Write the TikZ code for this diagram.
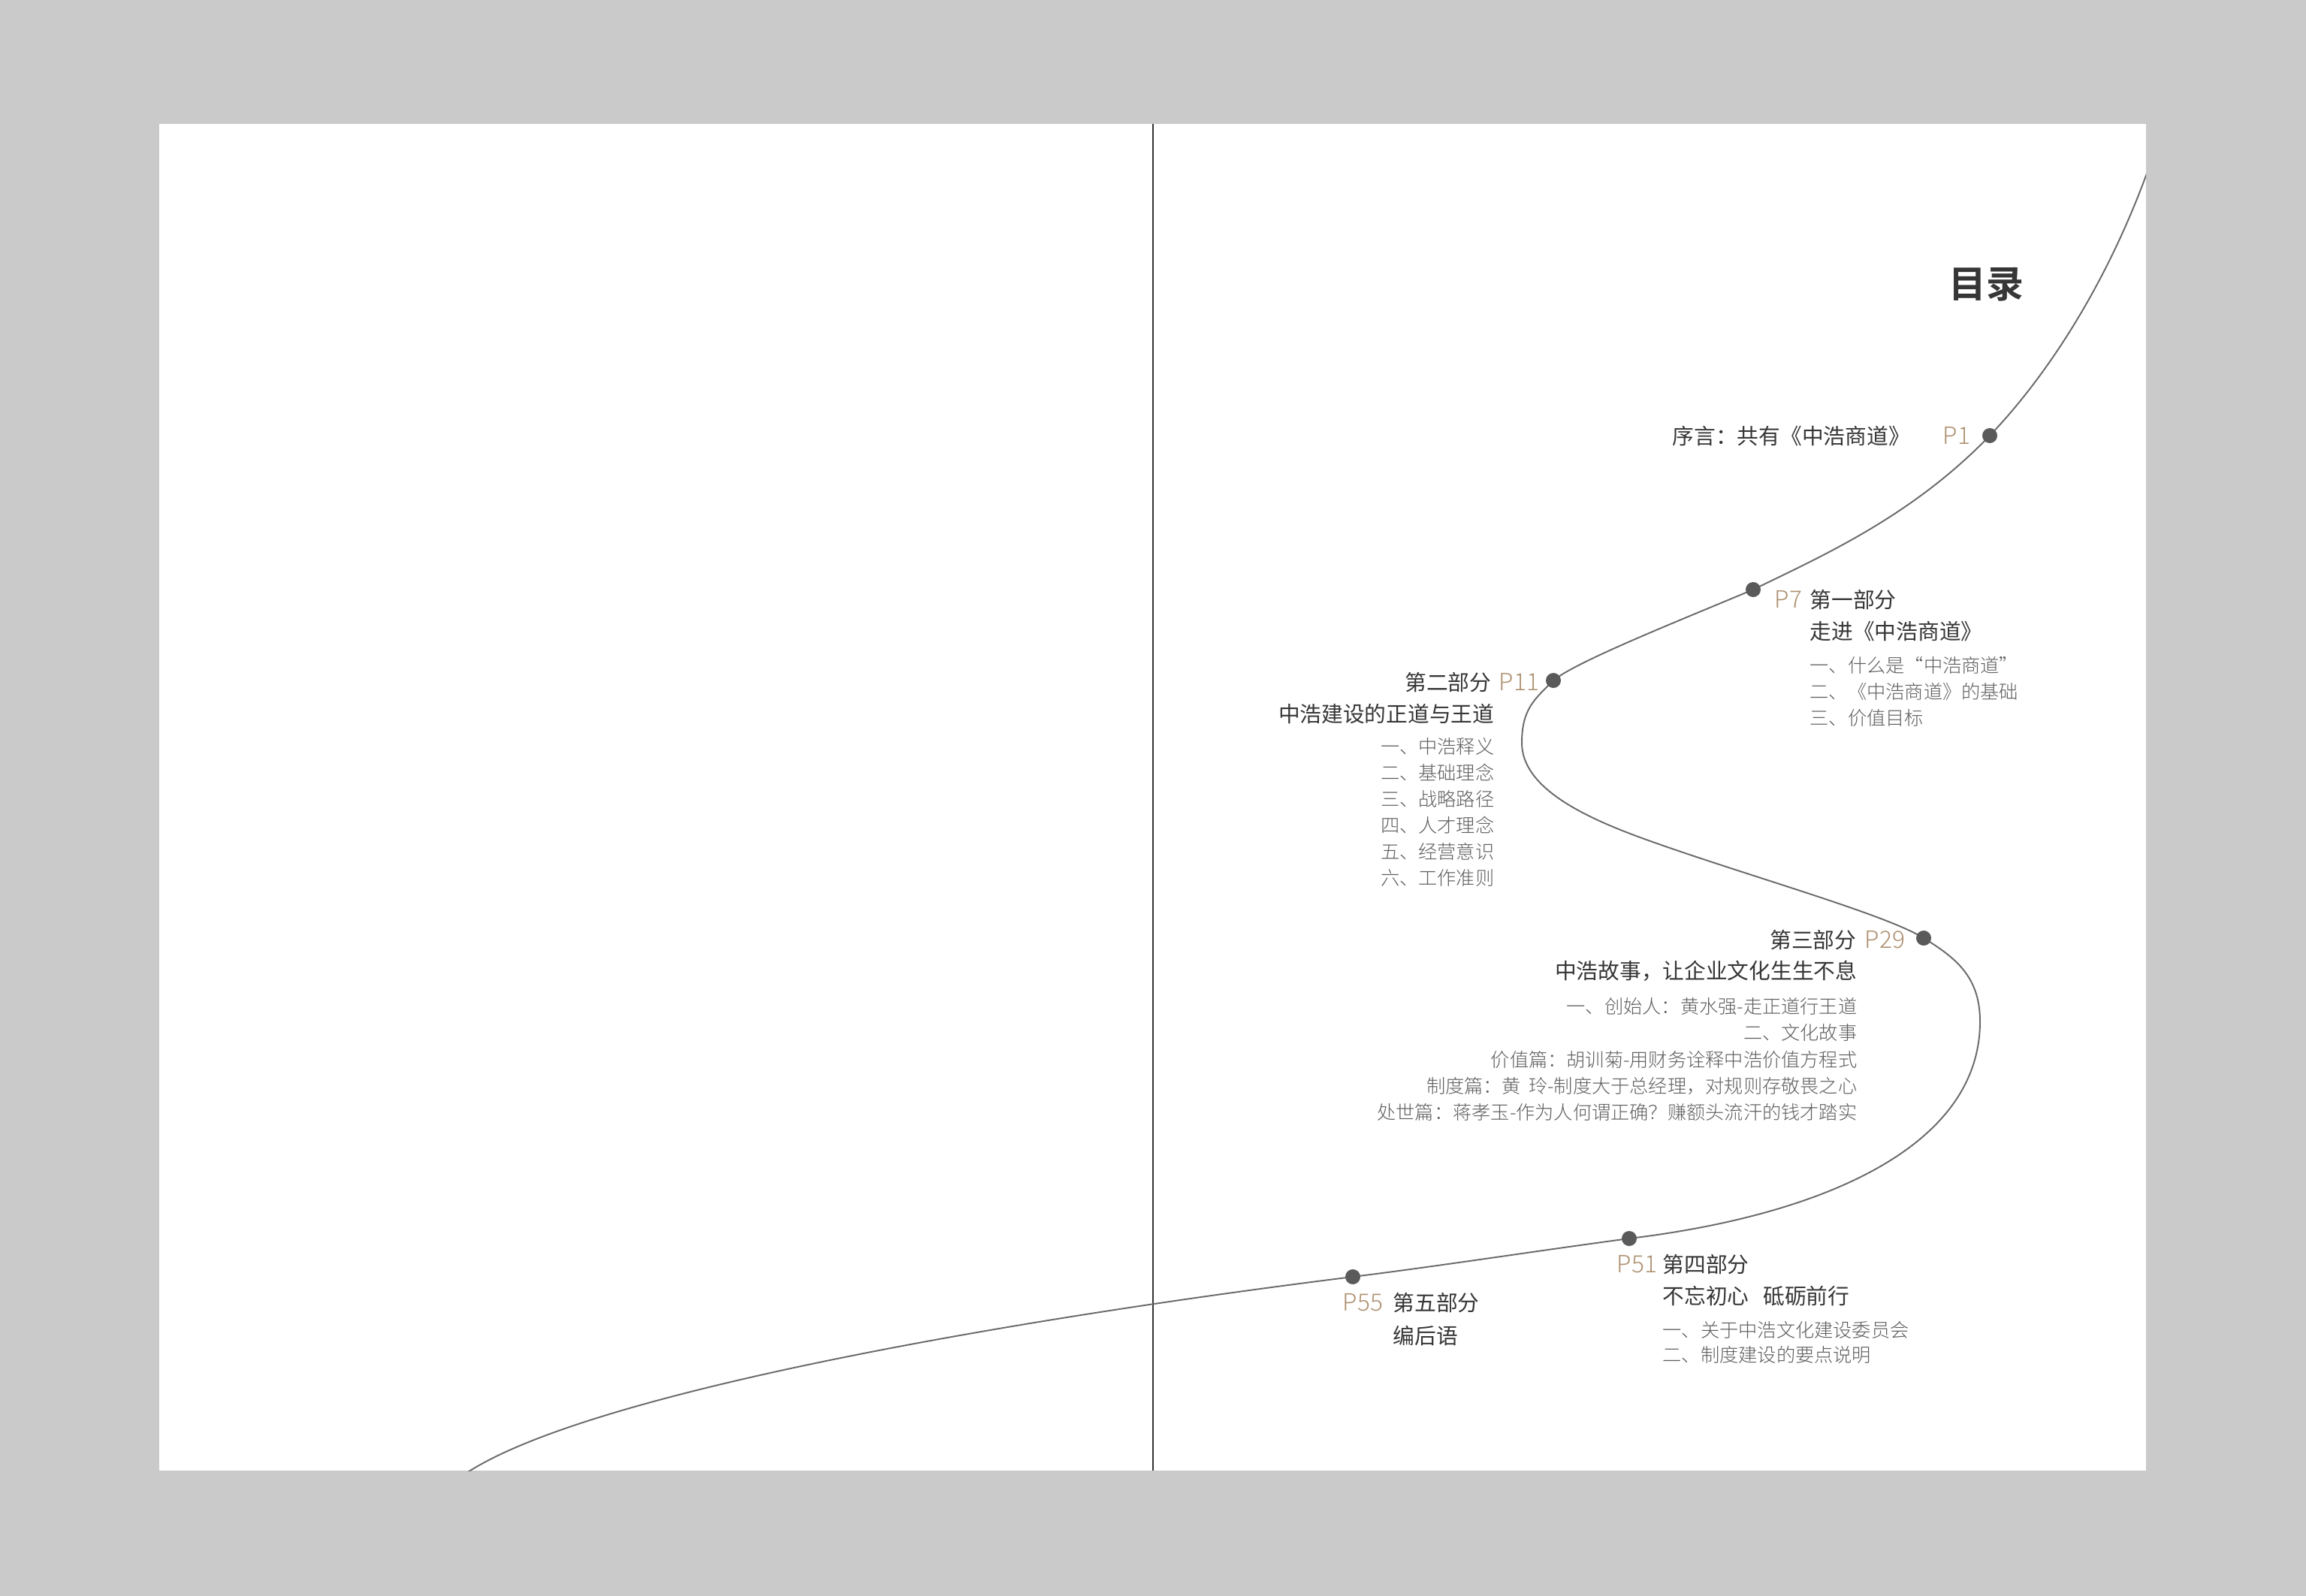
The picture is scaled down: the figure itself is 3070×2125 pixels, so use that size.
\documentclass[tikz,border=0pt]{standalone}
\usepackage{fontspec}
\newfontfamily\cjk{Noto Sans CJK SC}
\newfontfamily\cjklight{Noto Sans CJK SC Light}
\newfontfamily\cjkbold{Noto Sans CJK SC Bold}
\definecolor{bgc}{RGB}{201,202,201}
\definecolor{headc}{HTML}{363636}
\definecolor{subc}{HTML}{5E5E5E}
\definecolor{goldc}{HTML}{AE9170}
\definecolor{dotc}{HTML}{5A5A5A}
\definecolor{curvec}{HTML}{6A6A6A}
\definecolor{spinec}{HTML}{333333}
\begin{document}
\begin{tikzpicture}[x=0.01cm,y=-0.01cm,
  titlef/.style={font=\cjkbold\fontsize{14.2}{16}\selectfont, text=headc, inner sep=0pt},
  head/.style={font=\cjk\fontsize{8.17}{10}\selectfont, text=headc, inner sep=0pt},
  sub/.style={font=\cjklight\fontsize{7.17}{9}\selectfont, text=subc, inner sep=0pt},
  plabel/.style={font=\cjklight\fontsize{9}{10}\selectfont, text=goldc, inner sep=0pt},
  dotn/.style={circle, fill=dotc, inner sep=0pt, minimum size=0.2cm}]
\useasboundingbox (0,0) rectangle (3070,2125);
\fill[bgc] (0,0) rectangle (3070,2125);
\fill[white] (212,165) rectangle (2857,1958);
% dot positions and curve points
\coordinate (S) at (2895,110);
\coordinate (P1) at (2649,580);
\coordinate (P7) at (2334,785);
\coordinate (P11) at (2068,906);
\coordinate (L) at (2026,989);
\coordinate (M) at (2189,1117);
\coordinate (P29) at (2561,1249);
\coordinate (R) at (2636,1360);
\coordinate (P51) at (2169,1649);
\coordinate (P55) at (1801,1700);
\coordinate (E) at (626,1958);
\coordinate (Ex) at (541,2011);
% spine
\coordinate (spt) at (1535,165);
\coordinate (spb) at (1535,1958);
\draw[spinec, line width=0.6pt] (spt) -- (spb);
% curve
\begin{scope}
\clip (212,165) rectangle (2857,1958);
\draw[curvec, line width=0.55pt] (S)
  .. controls (2847,304) and (2752,472) .. (P1)
  .. controls (2545,688) and (2424,741) .. (P7)
  .. controls (2234,827) and (2098,881) .. (P11)
  .. controls (2043,931) and (2026,944) .. (L)
  .. controls (2026,1049) and (2109,1088) .. (M)
  .. controls (2319,1164) and (2510,1217) .. (P29)
  .. controls (2603,1275) and (2636,1300) .. (R)
  .. controls (2636,1530) and (2419,1619) .. (P51)
  .. controls (2049,1665) and (1921,1685) .. (P55)
  .. controls (1351,1756) and (796,1852) .. (E)
  -- (Ex);
\end{scope}
% dots
\node[dotn] (d1) at (P1) {};
\node[dotn] (d7) at (P7) {};
\node[dotn] (d11) at (P11) {};
\node[dotn] (d29) at (P29) {};
\node[dotn] (d51) at (P51) {};
\node[dotn] (d55) at (P55) {};
% title
\node[titlef, anchor=base east] (title) at (2695,397) {目录};
% P1
\node[head, anchor=base west] (h1) at (2226,592) {序言：共有《中浩商道》};
\node[plabel, anchor=base west] (l1) at (2586,592) {P1};
% P7
\node[plabel, anchor=base west] (l7) at (2362,809) {P7};
\node[head, anchor=base west] (h7a) at (2409,809) {第一部分};
\node[head, anchor=base west] (h7b) at (2409,851) {走进《中浩商道》};
\node[sub, anchor=base west] (s7a) at (2409,895) {一、什么是“中浩商道”};
\node[sub, anchor=base west] (s7b) at (2409,930) {二、《中浩商道》的基础};
\node[sub, anchor=base west] (s7c) at (2409,965) {三、价值目标};
% P11
\node[plabel, anchor=base west] (l11) at (1995,919) {P11};
\node[head, anchor=base east] (h11a) at (1986,919) {第二部分};
\node[head, anchor=base east] (h11b) at (1990,961) {中浩建设的正道与王道};
\node[sub, anchor=base east] (s11a) at (1990,1003) {一、中浩释义};
\node[sub, anchor=base east] (s11b) at (1990,1038) {二、基础理念};
\node[sub, anchor=base east] (s11c) at (1990,1073) {三、战略路径};
\node[sub, anchor=base east] (s11d) at (1990,1108) {四、人才理念};
\node[sub, anchor=base east] (s11e) at (1990,1143) {五、经营意识};
\node[sub, anchor=base east] (s11f) at (1990,1178) {六、工作准则};
% P29
\node[plabel, anchor=base west] (l29) at (2482,1262) {P29};
\node[head, anchor=base east] (h29a) at (2472,1262) {第三部分};
\node[head, anchor=base east] (h29b) at (2473,1303) {中浩故事，让企业文化生生不息};
\node[sub, anchor=base east] (s29a) at (2473,1349) {一、创始人：黄水强-走正道行王道};
\node[sub, anchor=base east] (s29b) at (2473,1384) {二、文化故事};
\node[sub, anchor=base east] (s29c) at (2473,1420) {价值篇：胡训菊-用财务诠释中浩价值方程式};
\node[sub, anchor=base east] (s29d) at (2473,1455) {制度篇：黄\hspace{0.4em}玲-制度大于总经理，对规则存敬畏之心};
\node[sub, anchor=base east] (s29e) at (2473,1490) {处世篇：蒋孝玉-作为人何谓正确？赚额头流汗的钱才踏实};
% P51
\node[plabel, anchor=base west] (l51) at (2152,1694) {P51};
\node[head, anchor=base west] (h51a) at (2213,1694) {第四部分};
\node[head, anchor=base west] (h51b) at (2213,1736) {不忘初心\hspace{0.65em}砥砺前行};
\node[sub, anchor=base west] (s51a) at (2213,1780) {一、关于中浩文化建设委员会};
\node[sub, anchor=base west] (s51b) at (2213,1813) {二、制度建设的要点说明};
% P55
\node[plabel, anchor=base west] (l55) at (1787,1745) {P55};
\node[head, anchor=base west] (h55a) at (1854,1745) {第五部分};
\node[head, anchor=base west] (h55b) at (1854,1789) {编后语};
\end{tikzpicture}
\end{document}
